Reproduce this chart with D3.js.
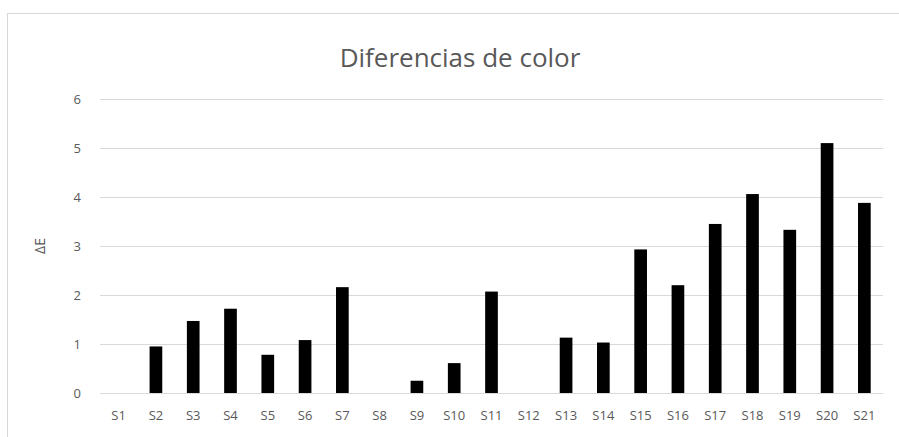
<!DOCTYPE html>
<html><head><meta charset="utf-8">
<script src="https://cdn.jsdelivr.net/npm/d3@7"></script>
<style>body{margin:0;background:#fff;}svg{display:block;}</style>
</head><body>
<svg id="c" width="899" height="437"></svg>
<script>
const categories = ["S1","S2","S3","S4","S5","S6","S7","S8","S9","S10","S11","S12","S13","S14","S15","S16","S17","S18","S19","S20","S21"];
const deltaE = [0,0.95,1.47,1.72,0.78,1.08,2.16,0,0.25,0.61,2.07,0,1.13,1.03,2.93,2.2,3.45,4.06,3.33,5.1,3.88];
const yTicks = [0,1,2,3,4,5,6];
const title = "Diferencias de color";
const yLabel = "ΔE";

const svg = d3.select("#c");
const font = "'Open Sans', 'Liberation Sans', sans-serif";
svg.append("rect").attr("x",7.5).attr("y",13.5).attr("width",960).attr("height",500)
  .attr("fill","#fff").attr("stroke","#d9d9d9").attr("stroke-width",1);

const m = {l:100, r:883, t:99, b:393};
const x = d3.scaleBand().domain(categories).range([m.l,m.r]).paddingInner(0.66).paddingOuter(0.33);
const y = d3.scaleLinear().domain([0,6]).range([m.b,m.t]);

const yAxis = svg.append("g").attr("transform",`translate(${m.l},0)`)
  .call(d3.axisLeft(y).tickValues(yTicks).tickSize(-(m.r-m.l)).tickPadding(19).tickFormat(d3.format("d")));
yAxis.select(".domain").remove();
yAxis.selectAll(".tick line").attr("stroke","#d9d9d9");
yAxis.selectAll(".tick text").attr("fill","#595959").style("font-family",font).style("font-size","13px");

const xAxis = svg.append("g").attr("transform",`translate(0,${m.b})`)
  .call(d3.axisBottom(x).tickSize(0).tickPadding(18));
xAxis.select(".domain").remove();
xAxis.selectAll(".tick text").attr("fill","#595959").style("font-family",font).style("font-size","13px");

svg.append("g").selectAll("rect").data(categories.map((c,i)=>({c,v:deltaE[i]})))
  .join("rect")
  .attr("x",d=>x(d.c)).attr("width",x.bandwidth())
  .attr("y",d=>y(d.v)).attr("height",d=>y(0)-y(d.v))
  .attr("fill","#000");

svg.append("text").attr("x",460).attr("y",67).attr("text-anchor","middle")
  .attr("fill","#595959").style("font-family",font).style("font-size","26px").text(title);

svg.append("text").attr("transform",`translate(45,${(m.t+m.b)/2}) rotate(-90)`)
  .attr("text-anchor","middle").attr("fill","#595959")
  .style("font-family",font).style("font-size","14px").text(yLabel);
</script>
</body></html>
